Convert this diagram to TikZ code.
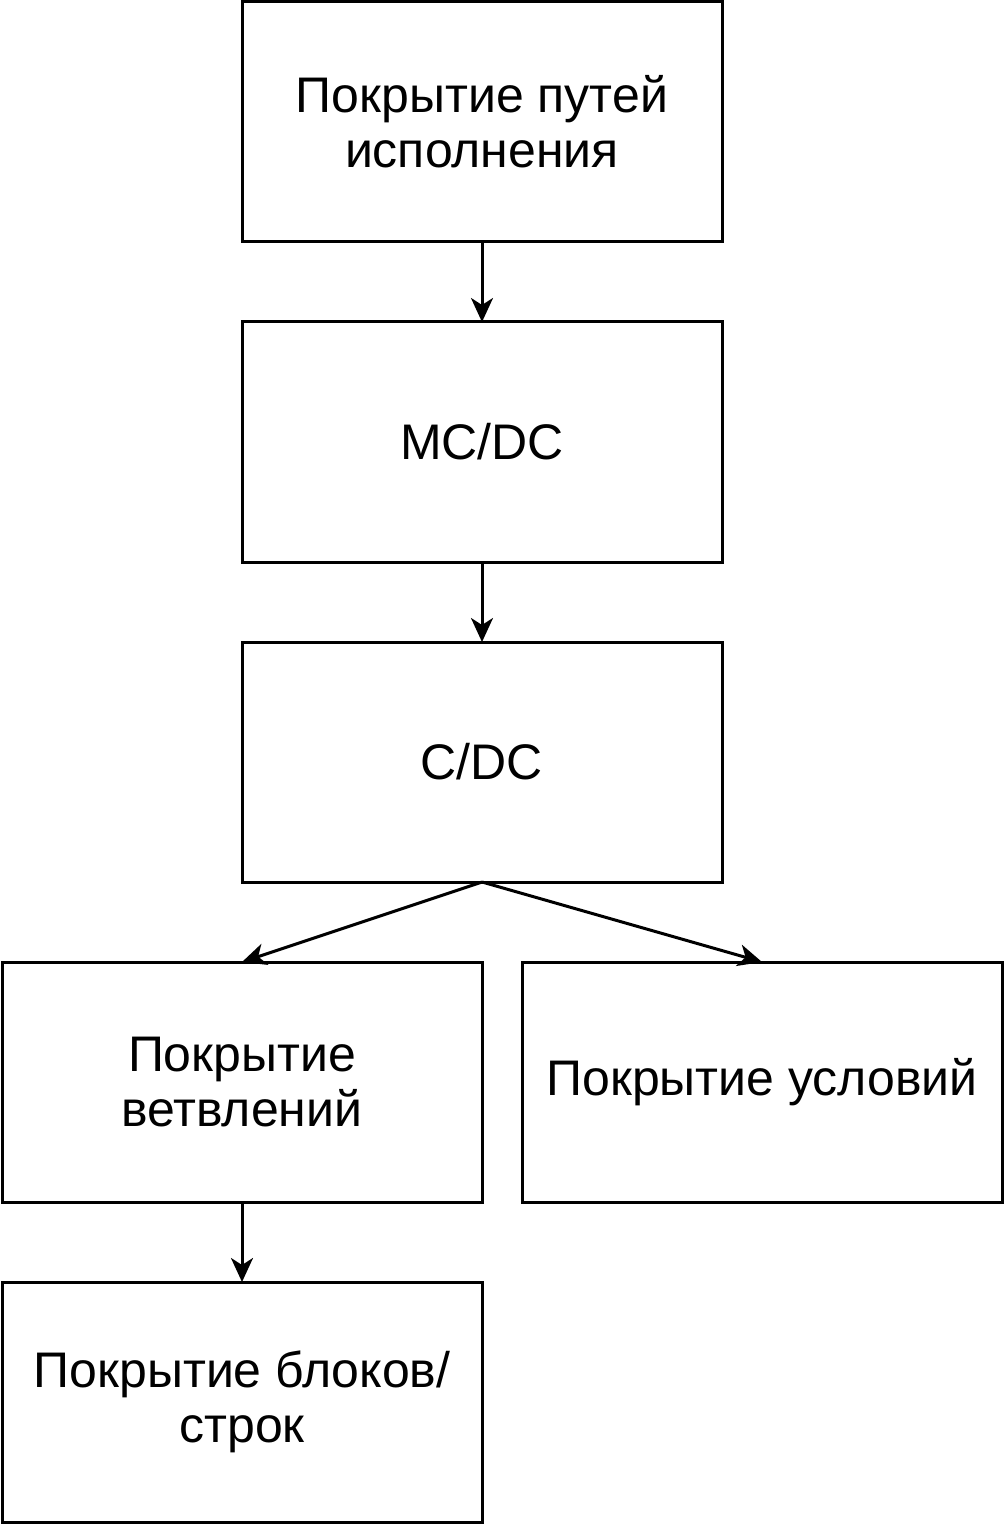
\documentclass[tikz,border=0pt]{standalone}
\usepackage{fontspec}
\setmainfont{Liberation Sans}
\usetikzlibrary{arrows.meta,positioning}

\begin{document}
\begin{tikzpicture}[
    font=\fontsize{25}{27.5}\selectfont,
    >={Stealth[length=12pt, width=11pt, inset=3.5pt]},
    box/.style={
        draw=black, line width=1.5pt, align=center, inner sep=0pt,
        outer sep=0pt, minimum width=240pt, minimum height=120pt},
    arr/.style={->, line width=1.5pt, draw=black}
]
\useasboundingbox (0,0) rectangle (502pt,-762pt);

%% chain of coverage criteria, strongest at top
\node[box] (paths) at (241pt,-61pt)
    {Покрытие путей\\исполнения};
\node[box, below=40pt of paths] (mcdc) {MC/DC};
\node[box, below=40pt of mcdc] (cdc) {C/DC};

%% two branches under C/DC
\node[box, below=40pt of cdc, xshift=-120pt] (branch)
    {Покрытие\\ветвлений};
\node[box, right=20pt of branch] (cond)
    {Покрытие условий};
\node[box, below=40pt of branch] (blocks)
    {Покрытие блоков/\\строк};

\draw[arr] (paths)  -- (mcdc);
\draw[arr] (mcdc)   -- (cdc);
\draw[arr] (cdc.south) -- (branch.north);
\draw[arr] (cdc.south) -- (cond.north);
\draw[arr] (branch) -- (blocks);

\end{tikzpicture}
\end{document}
